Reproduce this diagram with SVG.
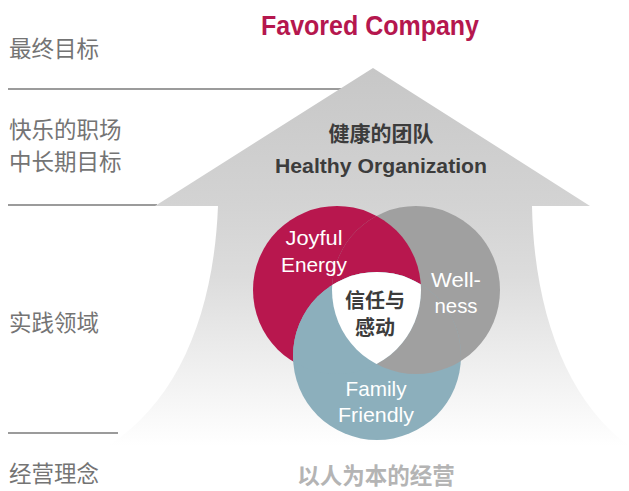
<svg xmlns="http://www.w3.org/2000/svg" width="629" height="491" viewBox="0 0 629 491">
  <style>
    .lbl { font-family: "Noto Sans CJK SC", "Liberation Sans", sans-serif; font-size: 22.5px; fill: #747474; }
    .cjkb { font-family: "Noto Sans CJK SC", "Liberation Sans", sans-serif; font-weight: bold; fill: #3c3c3c; text-anchor: middle; }
    .en { font-family: "Liberation Sans", "Noto Sans", sans-serif; text-anchor: middle; }
    .cw { font-size: 21px; fill: #ffffff; }
    .div { stroke: #7a7a7a; stroke-width: 1.3; fill: none; }
  </style>
  <defs>
    <linearGradient id="arrowGrad" gradientUnits="userSpaceOnUse" x1="0" y1="68" x2="0" y2="446">
      <stop offset="0" stop-color="#c7c7c7"/>
      <stop offset="0.36" stop-color="#d3d3d3"/>
      <stop offset="0.55" stop-color="#dcdcdc"/>
      <stop offset="0.8" stop-color="#f0f0f0"/>
      <stop offset="1" stop-color="#ffffff"/>
    </linearGradient>
    <clipPath id="cRed"><circle cx="337" cy="290" r="84"/></clipPath>
    <clipPath id="cGray"><circle cx="416" cy="290" r="84"/></clipPath>
    <clipPath id="cBlue"><circle cx="377" cy="356" r="84"/></clipPath>
  </defs>

  <rect width="629" height="491" fill="#ffffff"/>

  <g id="dividers">
    <line class="div" x1="8" y1="89" x2="342" y2="89"/>
    <line class="div" x1="8" y1="205" x2="157" y2="205"/>
    <line class="div" x1="8" y1="433" x2="118" y2="433"/>
  </g>

  <g id="arrow">
    <path d="M 373,68 L 590,206 L 532,206 C 534,310 566,400 629,446 L 108,446 C 180,400 214,310 218,206 L 155,206 Z" fill="url(#arrowGrad)"/>
  </g>

  <g id="title">
    <text class="en" x="370" y="35" font-size="27" font-weight="bold" fill="#b5174e" textLength="218" lengthAdjust="spacingAndGlyphs">Favored Company</text>
  </g>

  <g id="healthy-org">
    <text class="cjkb" x="381" y="141" font-size="21">健康的团队</text>
    <text class="en" x="381" y="173" font-size="21" font-weight="bold" fill="#3c3c3c" textLength="212" lengthAdjust="spacingAndGlyphs">Healthy Organization</text>
  </g>

  <g id="venn">
    <g id="joyful-energy">
      <circle cx="337" cy="290" r="84" fill="#b8174e"/>
    </g>
    <g id="wellness">
      <circle cx="416" cy="290" r="84" fill="#a0a0a0"/>
    </g>
    <g id="family-friendly">
      <circle cx="377" cy="356" r="84" fill="#8cafbc"/>
    </g>
    <g id="overlaps">
      <circle cx="337" cy="290" r="84" fill="#b8174e" clip-path="url(#cGray)"/>
      <circle cx="416" cy="290" r="84" fill="#a0a0a0" clip-path="url(#cBlue)"/>
      <circle cx="377" cy="356" r="84" fill="#8cafbc" clip-path="url(#cRed)"/>
      <g clip-path="url(#cRed)">
        <g clip-path="url(#cGray)">
          <circle cx="377" cy="356" r="84" fill="#ffffff"/>
        </g>
      </g>
    </g>
    <g id="venn-labels">
      <text class="en cw" x="314" y="245" textLength="57" lengthAdjust="spacingAndGlyphs">Joyful</text>
      <text class="en cw" x="314" y="272" textLength="66" lengthAdjust="spacingAndGlyphs">Energy</text>
      <text class="en cw" x="456" y="287" textLength="50" lengthAdjust="spacingAndGlyphs">Well-</text>
      <text class="en cw" x="456" y="313" textLength="43" lengthAdjust="spacingAndGlyphs">ness</text>
      <text class="en cw" x="376" y="396" textLength="61" lengthAdjust="spacingAndGlyphs">Family</text>
      <text class="en cw" x="376" y="422" textLength="76" lengthAdjust="spacingAndGlyphs">Friendly</text>
    </g>
    <g id="trust">
      <text class="cjkb" x="375" y="308" font-size="20">信任与</text>
      <text class="cjkb" x="375" y="335" font-size="20">感动</text>
    </g>
  </g>

  <g id="left-labels">
    <text class="lbl" x="9" y="57">最终目标</text>
    <text class="lbl" x="9" y="138">快乐的职场</text>
    <text class="lbl" x="9" y="170">中长期目标</text>
    <text class="lbl" x="9" y="331">实践领域</text>
    <text class="lbl" x="9" y="482">经营理念</text>
  </g>

  <g id="philosophy">
    <text class="cjkb" x="376" y="484" font-size="22.5" style="fill:#b4b4b4">以人为本的经营</text>
  </g>
</svg>
